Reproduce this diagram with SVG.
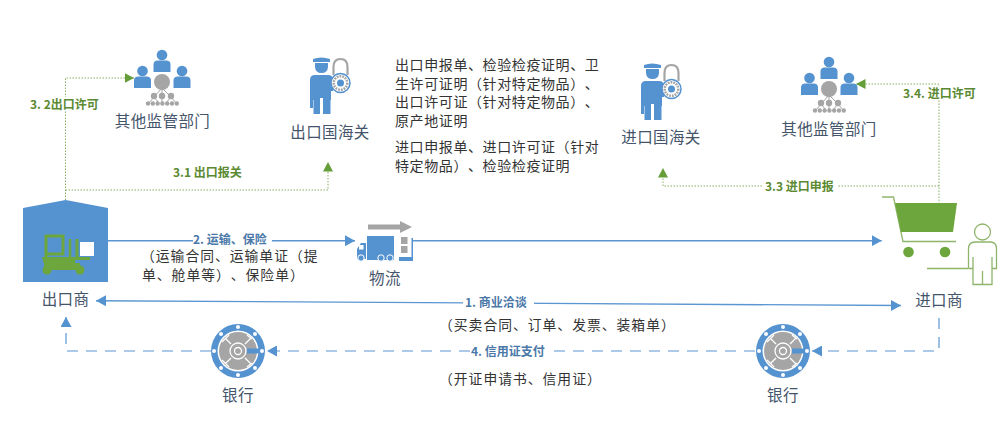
<svg xmlns="http://www.w3.org/2000/svg" xmlns:xlink="http://www.w3.org/1999/xlink" width="1003" height="425" viewBox="0 0 1003 425">
<style>
text{font-family:"Noto Sans CJK SC","Liberation Sans",sans-serif;text-spacing-trim:space-all;font-feature-settings:"palt" 0,"halt" 0}
.n{font-size:15.5px;fill:#44546a;text-anchor:middle;letter-spacing:.4px}
.d{font-size:14px;fill:#333;letter-spacing:.6px}
.dc{font-size:13.8px;fill:#333;letter-spacing:1px}
.g{font-size:12px;font-weight:700;fill:#5b8a32}
.b{font-size:12px;font-weight:700;fill:#4a78a8}
.blue{fill:#5592d0}.grey{fill:#a5a5a5}.green{fill:#6ca63c}
.cb{fill:none;stroke:#5b96d2;stroke-width:1.4}
.cd{fill:none;stroke:#5b96d2;stroke-width:1.2;stroke-dasharray:11 8}
.cg{fill:none;stroke:#86ae62;stroke-width:1;stroke-dasharray:1.5 1.5}
.ln{fill:none;stroke:#8fb56a;stroke-width:1.3}
</style>
<defs>
<marker id="ab" markerUnits="userSpaceOnUse" markerWidth="11" markerHeight="11" refX="10" refY="5.5" orient="auto"><path d="M0 0L10 5.5L0 11z" fill="#5592d0"/></marker>
<marker id="ag" markerUnits="userSpaceOnUse" markerWidth="10" markerHeight="10" refX="9.5" refY="5" orient="auto"><path d="M0 0L9.5 5L0 10z" fill="#659e38"/></marker>
<g id="man"><circle cx="0" cy="0" r="5.3" class="blue"/><path d="M-8.5 17V9.5Q-8.500 5.500-4 5.500H4Q8.500 5.500 8.500 9.500V17z" class="blue"/></g>
<g id="people">
<use xlink:href="#man" x="162" y="55"/><use xlink:href="#man" x="142.500" y="71"/><use xlink:href="#man" x="182" y="71"/>
<path d="M162 88L154 97M162 88V97M162 88L171 97M154 97L149 103M154 97L159 103M162 97V103M171 97L166 103M171 97L176 103" stroke="#a5a5a5" stroke-width="1"/>
<g class="grey"><circle cx="162" cy="82" r="8"/><circle cx="154" cy="96" r="3.200"/><circle cx="162" cy="96" r="3.200"/><circle cx="171" cy="96" r="3.200"/>
<circle cx="148" cy="103.500" r="2.200"/><circle cx="152.800" cy="103.500" r="2.200"/><circle cx="157.600" cy="103.500" r="2.200"/><circle cx="162.400" cy="103.500" r="2.200"/><circle cx="167.200" cy="103.500" r="2.200"/><circle cx="172" cy="103.500" r="2.200"/><circle cx="176.800" cy="103.500" r="2.200"/></g>
</g>
<g id="officer">
<path d="M313 59Q321 56 330 59V62H313z" class="blue"/>
<path d="M315 63H328V67Q327.500 73 321.500 73Q315.500 73 315 67z" class="blue"/>
<path d="M310 108V80Q310 75 315 75H328Q333 75 333 80V91H331V100H330.500V114H323V98H320V114H313.500V100H313V108z" class="blue"/>
<path d="M333.500 75V67Q333.500 59 340.500 59Q347.500 59 347.500 67V75" fill="none" stroke="#a5a5a5" stroke-width="2.200"/>
<circle cx="340.500" cy="83" r="9.500" fill="#fff" stroke="#5592d0" stroke-width="1.500"/>
<circle cx="340.500" cy="83" r="6.800" fill="none" stroke="#a5a5a5" stroke-width="2.500" stroke-dasharray="1.800 1"/>
<circle cx="340.500" cy="83" r="3.500" class="blue"/>
</g>
<g id="bank">
<circle r="27" class="blue"/><circle r="20.500" fill="#fff"/><circle r="19" class="grey"/>
<g fill="#fff"><circle cx="24" r="2"/><circle cx="-24" r="2"/><circle cy="24" r="2"/><circle cy="-24" r="2"/><circle cx="17" cy="17" r="2"/><circle cx="-17" cy="17" r="2"/><circle cx="17" cy="-17" r="2"/><circle cx="-17" cy="-17" r="2"/></g>
<g stroke="#fff" stroke-width="1.300" fill="none"><path d="M-7 -7L-13 -13M-7 7L-13 13M7 7L13 13M7 -7L13 -13M-9 -16L-16 -9M-9 16L-16 9M9 16L14 12M9 -16L14 -12"/><circle r="8"/><circle r="3.500"/></g>
<path d="M9 -2.500H22V2.500H9z" class="blue"/>
</g>
</defs>

<g id="connectors">
<path class="cb" d="M108 240.700H355" marker-end="url(#ab)"/>
<path class="cb" d="M413 240.700H881.700" marker-end="url(#ab)"/>
<path class="cb" d="M901 305.500L96 300.700" marker-end="url(#ab)"/>
<path d="M901 305.500L891 300L891 311z" fill="#5592d0"/>
<path class="cd" d="M939 318V351H812" marker-end="url(#ab)"/>
<path class="cd" d="M755 351H267" marker-end="url(#ab)"/>
<path class="cd" d="M211 351H66V317" marker-end="url(#ab)"/>
<path class="cg" d="M65.500 200V78H134" marker-end="url(#ag)"/>
<path class="cg" d="M65.500 190H328V162" marker-end="url(#ag)"/>
<path class="cg" d="M939 204V84H856" marker-end="url(#ag)"/>
<path class="cg" d="M939 186H663V168" marker-end="url(#ag)"/>
<g fill="#fff"><rect x="193" y="234" width="79" height="13"/><rect x="463" y="295" width="71" height="13"/><rect x="470" y="344" width="82" height="13"/><rect x="763" y="179" width="74" height="14"/><rect x="900" y="86" width="78" height="13"/><rect x="28" y="97" width="74" height="14"/></g>
<text class="b" x="193" y="244">2. 运输、保险</text>
<text class="b" x="465" y="306.500">1. 商业洽谈</text>
<text class="b" x="471" y="355.500">4. 信用证支付</text>
<text class="g" x="30" y="108.500">3. 2出口许可</text>
<text class="g" x="173" y="176.500">3.1 出口报关</text>
<text class="g" x="903" y="97.500">3.4. 进口许可</text>
<text class="g" x="765" y="190.500">3.3 进口申报</text>
</g>

<g id="exporter">
<path d="M23 208L65.700 200L108 208V282H23z" class="blue"/>
<g fill="none" stroke="#6ca63c" stroke-width="3"><path d="M46 236H63V254H46zM46 235V260M77 239V259"/><path d="M70 239V257" stroke-width="2.500"/></g>
<path d="M42 257H90V260H75V264H44z" class="green"/>
<circle cx="47" cy="270" r="4.500" class="green"/><circle cx="80" cy="270" r="4.500" class="green"/><rect x="44" y="263" width="36" height="7" class="green"/>
<rect x="80" y="242" width="14" height="14" fill="#fff"/>
<text class="n" x="65.500" y="305">出口商</text>
</g>
<g id="logistics">
<path d="M368 224.500H400V221L412 227L400 233V229.500H368z" class="grey"/>
<path d="M367 236H394V260H367z" class="blue"/>
<path d="M357 259V249L361 243H366V259z" class="blue"/>
<rect x="359" y="245" width="4.500" height="4.500" fill="#fff"/>
<g class="blue" stroke="#fff" stroke-width="1"><circle cx="361" cy="258" r="3.200"/><circle cx="381" cy="258" r="3.200"/><circle cx="390" cy="258" r="3.200"/></g>
<rect x="401" y="237" width="6.500" height="7" class="grey"/><rect x="401" y="246" width="6.500" height="7" class="grey"/>
<path d="M399 261V257H411.500V238H413V261z" class="blue"/>
<text class="n" x="385" y="284">物流</text>
</g>
<g id="agency-export"><use xlink:href="#people"/><text class="n" x="162.500" y="127">其他监管部门</text></g>
<g id="customs-export"><use xlink:href="#officer"/><text class="n" x="330" y="138">出口国海关</text></g>
<g id="customs-import"><use xlink:href="#officer" x="331" y="6"/><text class="n" x="661" y="143">进口国海关</text></g>
<g id="agency-import"><use xlink:href="#people" x="667" y="7"/><text class="n" x="829" y="135">其他监管部门</text></g>
<g id="importer">
<path d="M882 197H893.500L903 241.500H956" class="ln"/>
<path d="M895 203H957L953 232H901z" class="green"/>
<circle cx="908.500" cy="252" r="5.300" class="green"/><circle cx="945" cy="252" r="5.300" class="green"/>
<path d="M927 268.500H968" class="ln" stroke-width="1.500"/>
<circle cx="982.500" cy="232" r="8" class="ln"/>
<path d="M968.500 268.500V249Q968.500 242 975 242H990.500Q996.500 242 996.500 249V268.500H992M973 257V284.500H992V257M982.500 271V284.500M968.500 268.500H973" class="ln"/>
<text class="n" x="939" y="306">进口商</text>
</g>
<g id="bank-left"><use xlink:href="#bank" x="238" y="351"/><text class="n" x="238" y="401">银行</text></g>
<g id="bank-right"><use xlink:href="#bank" x="783" y="351"/><text class="n" x="783" y="401">银行</text></g>
<g id="notes">
<text class="d" x="395" y="70">出口申报单、检验检疫证明、卫</text>
<text class="d" x="395" y="88.500">生许可证明（针对特定物品）、</text>
<text class="d" x="395" y="107">出口许可证（针对特定物品）、</text>
<text class="d" x="395" y="126">原产地证明</text>
<text class="d" x="395" y="152">进口申报单、进口许可证（针对</text>
<text class="d" x="395" y="171">特定物品）、检验检疫证明</text>
<text class="dc" x="141" y="261">（运输合同、运输单证（提</text>
<text class="dc" x="142" y="280">单、舱单等）、保险单）</text>
<text class="dc" x="439" y="330">（买卖合同、订单、发票、装箱单）</text>
<text class="dc" x="439" y="384">（开证申请书、信用证）</text>
</g>
</svg>
